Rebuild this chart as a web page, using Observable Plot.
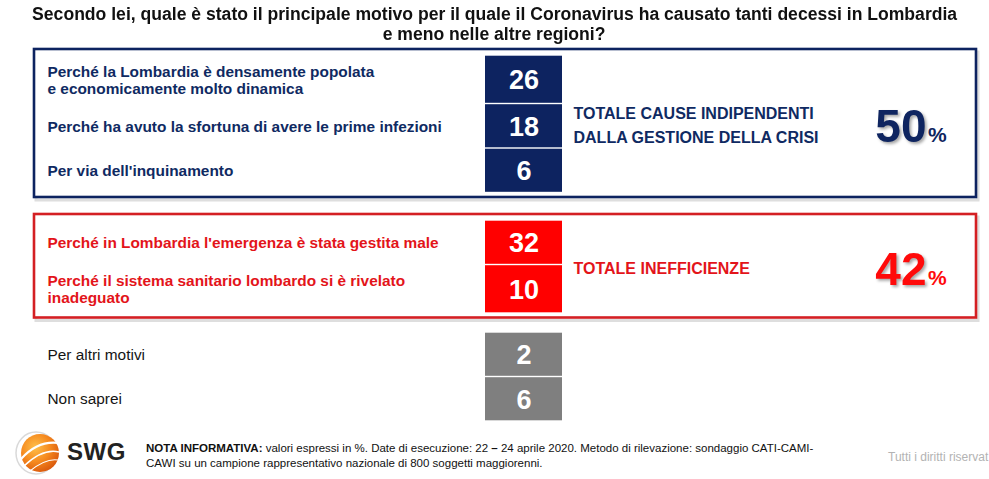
<!DOCTYPE html>
<html>
<head>
<meta charset="utf-8">
<script src="https://cdn.jsdelivr.net/npm/d3@7"></script>
<script src="https://cdn.jsdelivr.net/npm/@observablehq/plot@0.6"></script>
<style>
  html, body { margin: 0; padding: 0; background: #fff; }
  body { width: 989px; height: 479px; overflow: hidden; font-family: "Liberation Sans", Arial, sans-serif; }
  #title { height: 46px; box-sizing: border-box; padding-top: 4px; text-align: center;
    font-family: "Liberation Sans", Arial, sans-serif;
    font-weight: bold; font-size: 18px; line-height: 20px; color: #111; white-space: nowrap; overflow: hidden; }
  #title span { display: inline-block; transform-origin: 50% 50%; }
  #footer { position: relative; height: 55px; }
  #logo { position: absolute; left: 14px; top: 4px; }
  #swg { position: absolute; left: 67px; top: 14px; font-weight: bold; font-size: 24px; color: #222; letter-spacing: 0.5px; }
  #note { position: absolute; left: 146px; top: 17px; font-size: 11.5px; line-height: 15px; color: #111; width: 760px; white-space: nowrap; }
  #rights { position: absolute; left: 888px; top: 26px; font-size: 12px; color: #b3b3b3; white-space: nowrap; }
</style>
</head>
<body>
<div id="title"><span id="t1">Secondo lei, quale è stato il principale motivo per il quale il Coronavirus ha causato tanti decessi in Lombardia</span><br><span id="t2">e meno nelle altre regioni?</span></div>
<div id="chart"></div>
<div id="footer">
  <svg id="logo" width="50" height="50" viewBox="0 0 50 50">
    <defs>
      <radialGradient id="og" cx="38%" cy="35%" r="70%">
        <stop offset="0" stop-color="#ffc04a"/>
        <stop offset="0.55" stop-color="#f5891e"/>
        <stop offset="1" stop-color="#d9570b"/>
      </radialGradient>
    </defs>
    <ellipse cx="22" cy="25" rx="20" ry="21" fill="none" stroke="#d9d9d9" stroke-width="1.5"/>
    <circle cx="26" cy="25" r="19" fill="url(#og)"/>
    <path d="M7 31 Q 24 12 45 15" stroke="#fff" stroke-width="2.2" fill="none"/>
    <path d="M10 38 Q 29 20 45 24" stroke="#fff" stroke-width="1.6" fill="none"/>
    <path d="M16 43 Q 32 30 44 32" stroke="#fff" stroke-width="1.2" fill="none"/>
  </svg>
  <div id="swg">SWG</div>
  <div id="note"><b>NOTA INFORMATIVA:</b> valori espressi in %. Date di esecuzione: 22 <b>–</b> 24 aprile 2020. Metodo di rilevazione: sondaggio CATI-CAMI-<br>CAWI su un campione rappresentativo nazionale di 800 soggetti maggiorenni.</div>
  <div id="rights">Tutti i diritti riservat</div>
</div>
<script>
// ---------------- DATA ----------------
const labels = [
  "Perché la Lombardia è densamente popolata\ne economicamente molto dinamica",
  "Perché ha avuto la sfortuna di avere le prime infezioni",
  "Per via dell'inquinamento",
  "Perché in Lombardia l'emergenza è stata gestita male",
  "Perché il sistema sanitario lombardo si è rivelato\ninadeguato",
  "Per altri motivi",
  "Non saprei"
];
const values = [26, 18, 6, 32, 10, 2, 6];
const groups = ["indip", "indip", "indip", "ineff", "ineff", "altro", "altro"];
const totalGroups = ["indip", "ineff"];
const totalLabels = ["TOTALE CAUSE INDIPENDENTI\nDALLA GESTIONE DELLA CRISI", "TOTALE INEFFICIENZE"];
const totalValues = [50, 42];

// ---------------- TITLE FIT ----------------
(function fitTitle() {
  const t1 = document.getElementById("t1"), t2 = document.getElementById("t2");
  const s = 925 / t1.getBoundingClientRect().width;
  t1.style.transform = `scaleX(${s})`;
  t2.style.transform = `scaleX(${s})`;
})();

// ---------------- LAYOUT / STYLE ----------------
const TOP = 46;                       // height of the HTML title above the SVG
const H = 378;
const groupStart = {indip: 55, ineff: 220, altro: 332};
const color = {
  indip: {box: "#0d2360", label: "#0f2a62", border: "#0d2360"},
  ineff: {box: "#ff0000", label: "#e3141a", border: "#d41f23"},
  altro: {box: "#7f7f7f", label: "#151515", border: "none"}
};
const BOX_X1 = 34, BOX_X2 = 976;
const COL_X1 = 485, COL_X2 = 562;
const LABEL_X = 47, TOTAL_X = 573, PCT_X = 926;

const rows = [];
const cursor = {...groupStart};
labels.forEach((label, i) => {
  const g = groups[i];
  const lines = label.split("\n").length;
  const h = lines > 1 ? 48.5 : 44.5;
  const y1 = cursor[g] - TOP;
  rows.push({label, value: values[i], group: g, y1, y2: y1 + h, yc: y1 + h / 2});
  cursor[g] += h;
});
const boxes = totalGroups.map((g, i) => {
  const rs = rows.filter(r => r.group === g);
  const y1 = rs[0].y1 - 6, y2 = rs[rs.length - 1].y2 + 4.5;
  return {group: g, label: totalLabels[i], value: totalValues[i], y1, y2, yc: (y1 + y2) / 2};
});
const pctColor = d => d.group === "ineff" ? "#ff0a0a" : "#0f2560";

const plot = Plot.plot({
  width: 989,
  height: H,
  margin: 0,
  x: {type: "identity", axis: null},
  y: {type: "identity", axis: null},
  style: {fontFamily: "'Liberation Sans', Arial, sans-serif", background: "white"},
  marks: [
    // box shadows
    Plot.rect(boxes, {x1: BOX_X1, x2: BOX_X2, y1: "y1", y2: "y2", dx: 2, dy: 3,
      fill: "none", stroke: "#d0d0d0", strokeWidth: 3, strokeOpacity: 0.7}),
    // group frames
    Plot.rect(boxes, {x1: BOX_X1, x2: BOX_X2, y1: "y1", y2: "y2",
      fill: "white", stroke: d => color[d.group].border, strokeWidth: 2.6}),
    // value cells
    Plot.rect(rows, {x1: COL_X1, x2: COL_X2, y1: "y1", y2: "y2", insetTop: 0.7, insetBottom: 0.7,
      fill: d => color[d.group].box}),
    Plot.text(rows, {x: (COL_X1 + COL_X2) / 2, y: d => d.yc + 1, text: d => String(d.value),
      fill: "white", fontSize: 27, fontWeight: "bold"}),
    // row labels (bold in framed groups, regular for the others)
    Plot.text(rows.filter(d => d.group !== "altro"), {x: LABEL_X, y: "yc", text: "label", textAnchor: "start", lineHeight: 1.12,
      fill: d => color[d.group].label, fontSize: 15.4, fontWeight: "bold"}),
    Plot.text(rows.filter(d => d.group === "altro"), {x: LABEL_X, y: "yc", text: "label", textAnchor: "start",
      fill: d => color[d.group].label, fontSize: 15.4, fontWeight: "normal"}),
    // totals labels
    Plot.text(boxes, {x: TOTAL_X, y: d => d.yc, text: "label", textAnchor: "start", lineHeight: 1.45,
      fill: d => color[d.group].label, fontSize: 16, fontWeight: "bold"}),
    // total percentages
    Plot.text(boxes, {x: PCT_X, y: d => d.yc + 4, text: d => String(d.value), textAnchor: "end",
      fill: pctColor, fontSize: 46, fontWeight: "bold"}),
    Plot.text(boxes, {x: PCT_X + 1.5, y: d => d.yc + 12, text: () => "%", textAnchor: "start",
      fill: pctColor, fontSize: 21, fontWeight: "bold"})
  ]
});
// soft drop shadow on the big percentages, as in the original
plot.querySelectorAll('g[font-size="46"] text').forEach(t => t.style.filter = "drop-shadow(2px 2px 1.5px rgba(0,0,0,0.35))");
document.getElementById("chart").appendChild(plot);
</script>
</body>
</html>
